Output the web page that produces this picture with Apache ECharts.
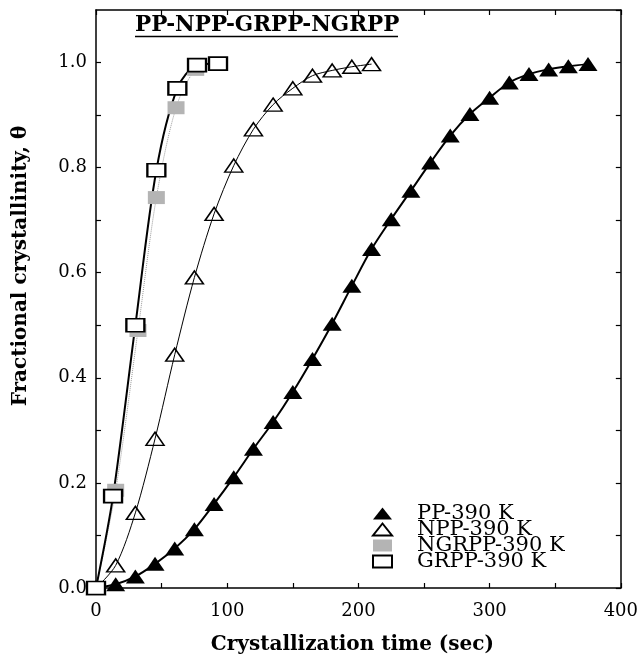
<!DOCTYPE html>
<html>
<head>
<meta charset="utf-8">
<script src="https://cdn.jsdelivr.net/npm/echarts@6/dist/echarts.min.js"></script>
<style>
  html, body { margin: 0; padding: 0; background: #fff; }
  #main { width: 641px; height: 660px; }
</style>
</head>
<body>
<div id="main"></div>
<script>
// PP-390 K
const ppTime = [0, 15, 30, 45, 60, 75, 90, 105, 120, 135, 150, 165, 180, 195, 210, 225, 240, 255, 270, 285, 300, 315, 330, 345, 360, 375]
const ppTheta = [0, 0.007, 0.022, 0.046, 0.075, 0.112, 0.16, 0.211, 0.265, 0.316, 0.373, 0.436, 0.503, 0.575, 0.645, 0.702, 0.756, 0.81, 0.861, 0.902, 0.933, 0.962, 0.978, 0.987, 0.993, 0.997]
// NPP-390 K
const nppTime = [0, 15, 30, 45, 60, 75, 90, 105, 120, 135, 150, 165, 180, 195, 210]
const nppTheta = [0, 0.043, 0.143, 0.284, 0.444, 0.591, 0.712, 0.804, 0.873, 0.92, 0.951, 0.975, 0.985, 0.992, 0.997]
// NGRPP-390 K
const ngrppTime = [0, 15, 32, 46, 61, 76, 92]
const ngrppTheta = [0, 0.186, 0.49, 0.743, 0.914, 0.987, 0.998]
// GRPP-390 K
const grppTime = [0, 13, 30, 46, 62, 77, 93]
const grppTheta = [0, 0.175, 0.5, 0.795, 0.951, 0.995, 0.998]

const xMin = 0
const xMax = 400
const xLabelStep = 100
const yMin = 0
const yMax = 1.1
const yLabelStep = 0.2

const serif = 'DejaVu Serif'

function pairs (xs, ys) {
  return xs.map((x, i) => [x, ys[i]])
}

const chart = echarts.init(document.getElementById('main'))

// onZero off, otherwise the top / right axes fall onto the bottom / left ones
const axisLine = { show: true, onZero: false, lineStyle: { color: '#000', width: 1.5 } }
const tick = { show: true, inside: true, length: 5, lineStyle: { color: '#000', width: 1.2 } }

// ticks every half label step, labels only on the full steps
function xAxisOf (pos, showLabel) {
  return {
    type: 'value',
    position: pos,
    min: xMin,
    max: xMax,
    interval: xLabelStep / 2,
    axisLine: axisLine,
    axisTick: tick,
    splitLine: { show: false },
    axisLabel: {
      show: showLabel,
      fontFamily: serif,
      fontSize: 18,
      color: '#000',
      margin: 14,
      formatter: v => (v % xLabelStep === 0 ? String(v) : '')
    }
  }
}

function yAxisOf (pos, showLabel) {
  return {
    type: 'value',
    position: pos,
    min: yMin,
    max: yMax,
    interval: yLabelStep / 2,
    axisLine: axisLine,
    axisTick: tick,
    splitLine: { show: false },
    axisLabel: {
      show: showLabel,
      fontFamily: serif,
      fontSize: 18,
      color: '#000',
      margin: 9,
      showMaxLabel: false,
      formatter: v => (Math.round(v * 10) % 2 === 0 ? v.toFixed(1) : '')
    }
  }
}

const xBottom = xAxisOf('bottom', true)
xBottom.name = 'Crystallization time (sec)'
xBottom.nameLocation = 'middle'
xBottom.nameGap = 47
xBottom.nameTextStyle = { fontFamily: serif, fontSize: 20, fontWeight: 'bold', color: '#000', padding: [0, 12, 0, 0] }

const yLeft = yAxisOf('left', true)
yLeft.name = 'Fractional crystallinity, θ'
yLeft.nameLocation = 'middle'
yLeft.nameGap = 65
yLeft.nameTextStyle = { fontFamily: serif, fontSize: 20, fontWeight: 'bold', color: '#000', padding: [0, 0, 0, 66] }

const option = {
  backgroundColor: '#fff',
  animation: false,
  title: {
    text: 'PP-NPP-GRPP-NGRPP',
    left: 135,
    top: 14,
    padding: 0,
    textStyle: { fontFamily: serif, fontSize: 21.5, fontWeight: 'bold', color: '#000' }
  },
  graphic: [
    {
      // underline of the title
      type: 'line',
      shape: { x1: 135, y1: 36.5, x2: 398, y2: 36.5 },
      style: { stroke: '#000', lineWidth: 1.5 }
    }
  ],
  legend: {
    orient: 'vertical',
    left: 372,
    top: 503,
    itemGap: -5,
    itemWidth: 19,
    itemHeight: 12,
    padding: 0,
    data: ['PP-390 K', 'NPP-390 K', 'NGRPP-390 K', 'GRPP-390 K'],
    textStyle: { fontFamily: serif, fontSize: 21, color: '#000', padding: [0, 0, 0, 20] }
  },
  grid: { left: 96, right: 20, top: 10, bottom: 72, containLabel: false },
  xAxis: [xBottom, xAxisOf('top', false)],
  yAxis: [yLeft, yAxisOf('right', false)],
  series: [
    // fitted curves
    {
      name: 'fit PP',
      type: 'line',
      data: pairs(ppTime, ppTheta),
      showSymbol: false,
      smooth: 0.3,
      lineStyle: { color: '#000', width: 2 },
      z: 2
    },
    {
      name: 'fit NPP',
      type: 'line',
      data: pairs(nppTime, nppTheta),
      showSymbol: false,
      smooth: 0.3,
      lineStyle: { color: '#000', width: 1 },
      z: 2
    },
    {
      name: 'fit NGRPP',
      type: 'line',
      data: pairs(ngrppTime, ngrppTheta),
      showSymbol: false,
      smooth: 0.3,
      lineStyle: { color: '#999', width: 1, type: 'dotted' },
      z: 2
    },
    {
      name: 'fit GRPP',
      type: 'line',
      data: pairs(grppTime, grppTheta),
      showSymbol: false,
      smooth: 0.3,
      lineStyle: { color: '#000', width: 2 },
      z: 2
    },
    // data points
    {
      name: 'PP-390 K',
      type: 'scatter',
      data: pairs(ppTime, ppTheta),
      symbol: 'triangle',
      symbolSize: [19, 14],
      itemStyle: { color: '#000', opacity: 1 },
      z: 3
    },
    {
      name: 'NPP-390 K',
      type: 'scatter',
      data: pairs(nppTime, nppTheta),
      symbol: 'triangle',
      symbolSize: [18, 13],
      itemStyle: { color: 'rgba(255,255,255,0)', borderColor: '#000', borderWidth: 1.5, opacity: 1 },
      z: 3
    },
    {
      name: 'NGRPP-390 K',
      type: 'scatter',
      data: pairs(ngrppTime, ngrppTheta),
      symbol: 'rect',
      symbolSize: [17, 13],
      itemStyle: { color: '#b4b4b4', opacity: 1 },
      z: 4
    },
    {
      name: 'GRPP-390 K',
      type: 'scatter',
      data: pairs(grppTime, grppTheta),
      symbol: 'rect',
      symbolSize: [18, 13],
      itemStyle: { color: '#fff', borderColor: '#000', borderWidth: 2, opacity: 1 },
      z: 5
    }
  ]
}

chart.setOption(option)
</script>
</body>
</html>
